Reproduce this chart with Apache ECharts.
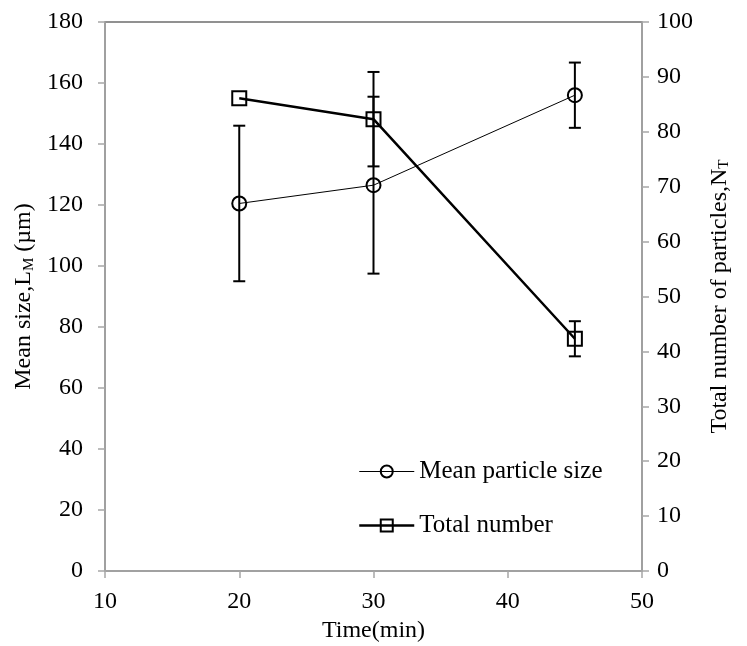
<!DOCTYPE html>
<html>
<head>
<meta charset="utf-8">
<script src="https://cdn.jsdelivr.net/npm/echarts@6/dist/echarts.min.js"></script>
<style>
html,body{margin:0;padding:0;background:#fff;}
#chart{width:747px;height:646px;}
</style>
</head>
<body>
<div id="chart"></div>
<script>
// ---- data ----
var times = [20, 30, 45];
var meanSize = [120.5, 126.5, 156];
var meanSizeErr = [25.5, 29, 10.7];
var totalNumber = [86.1, 82.3, 42.3];
var totalNumberErr = [0, 8.6, 3.2];
var xTicks = [10, 20, 30, 40, 50];
var leftTicks = [0, 20, 40, 60, 80, 100, 120, 140, 160, 180];
var rightTicks = [0, 10, 20, 30, 40, 50, 60, 70, 80, 90, 100];

var FONT = '"Liberation Serif", "Times New Roman", serif';
var FS = 24;

function pairs(xs, ys) { return xs.map(function (x, i) { return [x, ys[i]]; }); }
function errData(xs, ys, es) {
  var out = [];
  xs.forEach(function (x, i) { if (es[i] > 0) out.push([x, ys[i] - es[i], ys[i] + es[i]]); });
  return out;
}
function errRender(params, api) {
  var x = api.value(0);
  var lo = api.coord([x, api.value(1)]);
  var hi = api.coord([x, api.value(2)]);
  var w = 6;
  var st = { stroke: '#000', lineWidth: 2 };
  return {
    type: 'group',
    children: [
      { type: 'line', shape: { x1: lo[0], y1: lo[1], x2: hi[0], y2: hi[1] }, style: st },
      { type: 'line', shape: { x1: lo[0] - w, y1: lo[1], x2: lo[0] + w, y2: lo[1] }, style: st },
      { type: 'line', shape: { x1: hi[0] - w, y1: hi[1], x2: hi[0] + w, y2: hi[1] }, style: st }
    ]
  };
}

var chart = echarts.init(document.getElementById('chart'), null, { renderer: 'canvas' });
var axisLineGray = { show: true, lineStyle: { color: '#a6a6a6', width: 1.5 } };
var tickGray = { show: true, inside: false, length: 7, lineStyle: { color: '#a6a6a6', width: 1.5 } };
var subRich = {
  a: { fontFamily: FONT, fontSize: FS, color: '#000' },
  s: { fontFamily: FONT, fontSize: 15, color: '#000', padding: [10, 0, 0, 0] }
};

chart.setOption({
  backgroundColor: '#fff',
  animation: false,
  textStyle: { fontFamily: FONT },
  grid: {
    left: 105, right: 105, top: 22, bottom: 75,
    containLabel: false, outerBoundsMode: 'none',
    show: true, borderColor: '#6e6e6e', borderWidth: 1.5, backgroundColor: 'transparent'
  },
  legend: {
    orient: 'vertical',
    left: 353,
    top: 454,
    itemWidth: 55,
    itemHeight: 15,
    itemGap: 29,
    textStyle: { fontFamily: FONT, fontSize: 25, color: '#000' },
    data: [
      { name: 'Mean particle size', lineStyle: { width: 1, color: '#000' } },
      { name: 'Total number', lineStyle: { width: 2.5, color: '#000' } }
    ]
  },
  xAxis: {
    type: 'value', min: xTicks[0], max: xTicks[xTicks.length - 1], interval: 10,
    name: 'Time(min)', nameLocation: 'middle', nameGap: 36,
    nameTextStyle: { fontFamily: FONT, fontSize: FS, color: '#000' },
    axisLine: axisLineGray, axisTick: tickGray,
    axisLabel: { fontFamily: FONT, fontSize: FS, color: '#000', margin: 19 },
    splitLine: { show: false }
  },
  yAxis: [
    {
      type: 'value', min: leftTicks[0], max: leftTicks[leftTicks.length - 1], interval: 20, position: 'left',
      name: '{a|Mean size,L}{s|M}{a| (µm)}', nameLocation: 'middle', nameGap: 60,
      nameTextStyle: { fontFamily: FONT, fontSize: FS, color: '#000', rich: subRich },
      axisLine: axisLineGray, axisTick: tickGray,
      axisLabel: { fontFamily: FONT, fontSize: FS, color: '#000', margin: 22 },
      splitLine: { show: false }
    },
    {
      type: 'value', min: rightTicks[0], max: rightTicks[rightTicks.length - 1], interval: 10, position: 'right',
      name: '{a|Total number of particles,N}{s|T}', nameLocation: 'middle', nameGap: 65, nameRotate: 90,
      nameTextStyle: { fontFamily: FONT, fontSize: FS, color: '#000', rich: subRich },
      axisLine: axisLineGray, axisTick: tickGray,
      axisLabel: { fontFamily: FONT, fontSize: FS, color: '#000', margin: 15 },
      splitLine: { show: false }
    }
  ],
  series: [
    {
      name: 'err-size', type: 'custom', yAxisIndex: 0, renderItem: errRender,
      data: errData(times, meanSize, meanSizeErr), z: 1, silent: true
    },
    {
      name: 'err-number', type: 'custom', yAxisIndex: 1, renderItem: errRender,
      data: errData(times, totalNumber, totalNumberErr), z: 1, silent: true
    },
    {
      name: 'Mean particle size', type: 'line', yAxisIndex: 0,
      data: pairs(times, meanSize),
      symbol: 'circle', symbolSize: 14, z: 3,
      lineStyle: { color: '#000', width: 1 },
      itemStyle: { color: 'rgba(255,255,255,0)', borderColor: '#000', borderWidth: 2 }
    },
    {
      name: 'Total number', type: 'line', yAxisIndex: 1,
      data: pairs(times, totalNumber),
      symbol: 'rect', symbolSize: 14, z: 3,
      lineStyle: { color: '#000', width: 2.5 },
      itemStyle: { color: 'rgba(255,255,255,0)', borderColor: '#000', borderWidth: 2 }
    }
  ]
});
</script>
</body>
</html>
